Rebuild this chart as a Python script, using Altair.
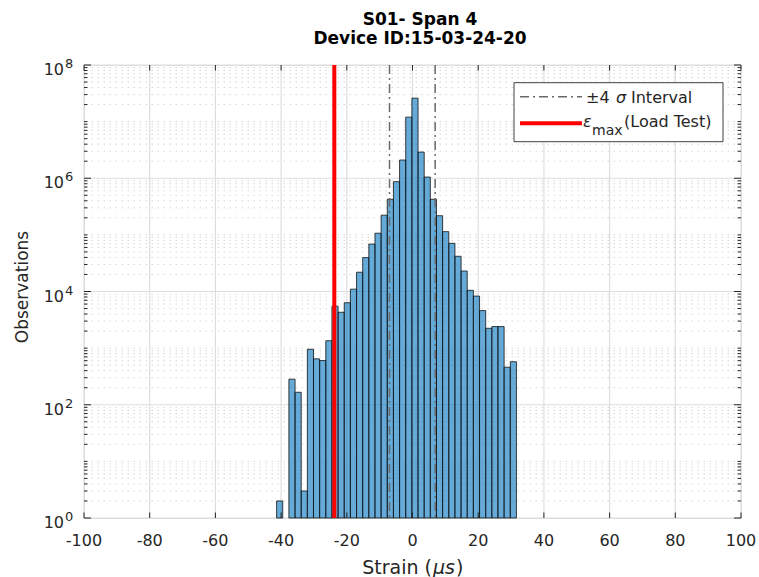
import altair as alt
import pandas as pd

# ---------------- data ----------------
bin_edges = [-41.37, -39.50, -37.63, -35.75, -33.88, -32.01, -30.14, -28.27, -26.39,
             -24.52, -22.65, -20.78, -18.91, -17.03, -15.16, -13.29, -11.42, -9.55,
             -7.67, -5.80, -3.93, -2.06, -0.19, 1.69, 3.56, 5.43, 7.30, 9.17, 11.05,
             12.92, 14.79, 16.66, 18.53, 20.41, 22.28, 24.15, 26.02, 27.89, 29.77, 31.64]
counts = [2, 0, 283, 166, 3, 955, 646, 603, 1350, 5500,
          4300, 6340, 11000, 21900, 39700, 68700, 107000, 223000, 426000, 870000,
          2.1e6, 1.2e7, 2.6e7, 2.9e6, 1.05e6, 426000, 218000, 114000, 71000, 41900,
          23000, 10500, 8300, 4600, 2240, 2400, 2400, 460, 576]
sigma_lines = [-7.0, 6.9]
eps_max = [-23.8]
x_ticks = [-100, -80, -60, -40, -20, 0, 20, 40, 60, 80, 100]
x_labels = ["-100", "-80", "-60", "-40", "-20", "0", "20", "40", "60", "80", "100"]
y_ticks = [1, 1e2, 1e4, 1e6, 1e8]
y_exps = ["0", "2", "4", "6", "8"]
y_minor = [m * 10 ** k for k in range(0, 8) for m in range(1, 10)
           if not (m == 1 and k % 2 == 0)]

FONT = "DejaVu Sans"
TXT = "#262626"
GRID = "#dedede"
W, H = 657, 453

xs = alt.Scale(domain=[-100, 100], nice=False, zero=False)
ys = alt.Scale(type="log", domain=[1, 1e8], nice=False)

bars_df = pd.DataFrame({
    "left": bin_edges[:-1],
    "right": bin_edges[1:],
    "count": counts,
})
bars_df = bars_df[bars_df["count"] > 0].copy()
bars_df["base"] = 1

one = pd.DataFrame({"a": [0]})
xt_df = pd.DataFrame({"t": x_ticks, "lab": x_labels})
yt_df = pd.DataFrame({"t": y_ticks, "b": ["10"] * len(y_ticks), "e": y_exps})
ym_df = pd.DataFrame({"t": y_minor})

# ---------------- grid ----------------
grid_x = alt.Chart(xt_df).mark_rule(color=GRID, strokeWidth=1.2).encode(
    x=alt.X("t:Q", scale=xs, axis=None))
grid_y = alt.Chart(yt_df).mark_rule(color=GRID, strokeWidth=1.2).encode(
    y=alt.Y("t:Q", scale=ys, axis=None))
minor_grid = alt.Chart(ym_df).mark_rule(
    color="#d6d6d6", strokeWidth=1, strokeDash=[1.5, 4.5]
).encode(y=alt.Y("t:Q", scale=ys, axis=None))

# ---------------- bars ----------------
bars = alt.Chart(bars_df).mark_rect(
    fill="#0072bd", fillOpacity=0.6, stroke="#111111", strokeWidth=0.8
).encode(
    x=alt.X("left:Q", scale=xs, axis=None),
    x2="right:Q",
    y=alt.Y("count:Q", scale=ys, axis=None),
    y2="base:Q",
)

sig = alt.Chart(pd.DataFrame({"s": sigma_lines})).mark_rule(
    color="#6a6a6a", strokeWidth=1.5, strokeDash=[9, 4, 2, 4]
).encode(x=alt.X("s:Q", scale=xs, axis=None))

red = alt.Chart(pd.DataFrame({"e": eps_max})).mark_rule(
    color="#ff0000", strokeWidth=4
).encode(x=alt.X("e:Q", scale=xs, axis=None))

# ---------------- inward ticks ----------------
xt_bot = alt.Chart(xt_df).mark_rule(color=TXT, strokeWidth=1).encode(
    x=alt.X("t:Q", scale=xs, axis=None), y=alt.value(H), y2=alt.value(H - 5.5))
xt_top = alt.Chart(xt_df).mark_rule(color=TXT, strokeWidth=1).encode(
    x=alt.X("t:Q", scale=xs, axis=None), y=alt.value(0), y2=alt.value(5.5))
yt_l = alt.Chart(yt_df).mark_rule(color=TXT, strokeWidth=1).encode(
    y=alt.Y("t:Q", scale=ys, axis=None), x=alt.value(0), x2=alt.value(7))
yt_r = alt.Chart(yt_df).mark_rule(color=TXT, strokeWidth=1).encode(
    y=alt.Y("t:Q", scale=ys, axis=None), x=alt.value(W), x2=alt.value(W - 7))
ym_l = alt.Chart(ym_df).mark_rule(color=TXT, strokeWidth=1).encode(
    y=alt.Y("t:Q", scale=ys, axis=None), x=alt.value(0), x2=alt.value(3.5))
ym_r = alt.Chart(ym_df).mark_rule(color=TXT, strokeWidth=1).encode(
    y=alt.Y("t:Q", scale=ys, axis=None), x=alt.value(W), x2=alt.value(W - 3.5))

# ---------------- tick labels ----------------
xlab = alt.Chart(xt_df).mark_text(
    font=FONT, fontSize=16, color=TXT, align="center", baseline="alphabetic"
).encode(x=alt.X("t:Q", scale=xs, axis=None), y=alt.value(H + 27.5), text="lab:N")
ylab_b = alt.Chart(yt_df).mark_text(
    font=FONT, fontSize=16, color=TXT, align="right", baseline="alphabetic", dy=10
).encode(y=alt.Y("t:Q", scale=ys, axis=None), x=alt.value(-20), text="b:N")
ylab_e = alt.Chart(yt_df).mark_text(
    font=FONT, fontSize=13, color=TXT, align="left", baseline="alphabetic", dy=3
).encode(y=alt.Y("t:Q", scale=ys, axis=None), x=alt.value(-19), text="e:N")


# ---------------- titles ----------------
def txt(s, x, y, size, align="left", weight="normal", style="normal",
        angle=0, baseline="alphabetic", color=TXT):
    kw = dict(text=s, font=FONT, fontSize=size, align=align, fontWeight=weight,
              fontStyle=style, baseline=baseline, color=color)
    if angle:
        kw["angle"] = angle
    return alt.Chart(one).mark_text(**kw).encode(x=alt.value(x), y=alt.value(y))


title1 = txt("S01- Span 4", 336, -40, 17, align="center", weight="bold", color="#000000")
title2 = txt("Device ID:15-03-24-20", 336, -20.7, 17, align="center", weight="bold",
             color="#000000")
xt1 = txt("Strain (", 348, 509, 19, align="right")
xt2 = txt("\u03bcs", 349, 509, 19, align="left", style="italic")
xt3 = txt(")", 372, 509, 19, align="left")
ytitle = txt("Observations", -61, 222, 17, align="center", angle=270, baseline="middle")

# ---------------- legend ----------------
leg_box = alt.Chart(one).mark_rect(fill="white", stroke="#404040", strokeWidth=1).encode(
    x=alt.value(430), x2=alt.value(639), y=alt.value(17.7), y2=alt.value(76.7))
leg_l1 = alt.Chart(one).mark_rule(color="#6a6a6a", strokeWidth=1.5,
                                  strokeDash=[9, 4, 2, 4]).encode(
    x=alt.value(436), x2=alt.value(498), y=alt.value(31.7))
leg_l2 = alt.Chart(one).mark_rule(color="#ff0000", strokeWidth=4).encode(
    x=alt.value(436), x2=alt.value(498), y=alt.value(58.3))
lt1 = txt("\u00b14", 502, 38.3, 16)
lt2 = txt("\u03c3", 532, 38.3, 16, style="italic")
lt3 = txt("Interval", 547, 38.3, 16)
lt4 = txt("\u03b5", 499, 61.7, 16, style="italic")
lt5 = txt("max", 508, 70, 14)
lt6 = txt("(Load Test)", 540, 61.7, 16)

chart = alt.layer(
    grid_x, grid_y, minor_grid, bars, sig, red,
    xt_bot, xt_top, yt_l, yt_r, ym_l, ym_r,
    xlab, ylab_b, ylab_e,
    title1, title2, xt1, xt2, xt3, ytitle,
    leg_box, leg_l1, leg_l2, lt1, lt2, lt3, lt4, lt5, lt6,
).properties(
    width=W, height=H,
    autosize=alt.AutoSizeParams(type="none"),
    padding={"left": 84, "top": 65, "right": 18, "bottom": 59},
).configure_view(
    stroke=TXT, strokeWidth=1
).configure(background="white")

chart.save("out.html", embed_options={"renderer": "svg", "actions": False})
